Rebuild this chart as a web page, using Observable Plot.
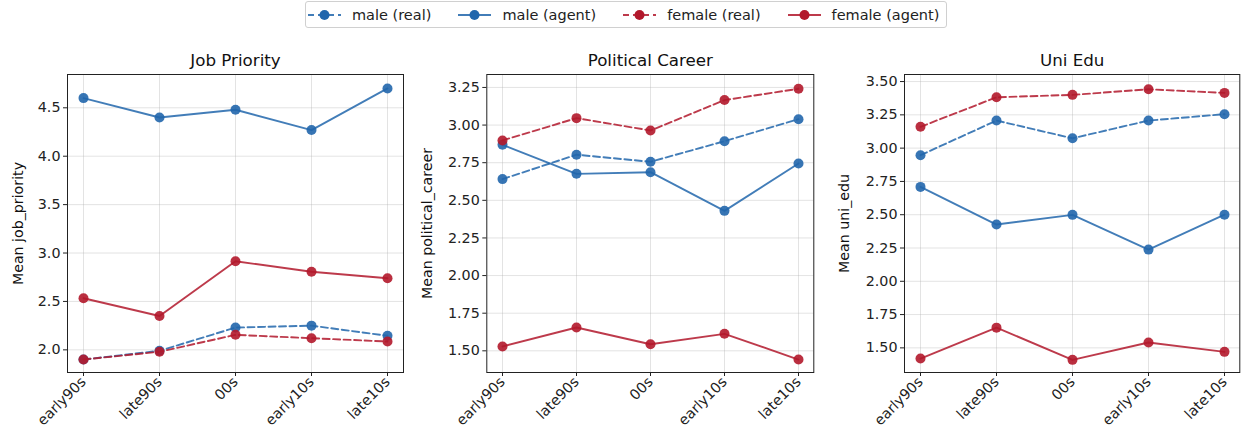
<!DOCTYPE html>
<html>
<head>
<meta charset="utf-8">
<script src="https://cdn.jsdelivr.net/npm/d3@7"></script>
<script src="https://cdn.jsdelivr.net/npm/@observablehq/plot@0.6"></script>
<style>
  html, body { margin: 0; padding: 0; background: #fff; }
  #wrap { position: relative; width: 1247px; height: 440px; font-family: "DejaVu Sans", sans-serif; }
  .panel { position: absolute; top: 40px; }
  #legend { position: absolute; top: 1px; left: 305px; width: 642px; height: 27px; box-sizing: border-box;
    border: 1px solid #d0d0d0; border-radius: 3px; display: flex; align-items: center; gap: 27px;
    font-size: 14.5px; color: #222; padding: 0 0 0 2px; }
  .item { display: flex; align-items: center; gap: 11px; }
</style>
</head>
<body>
<div id="wrap">
  <div id="legend"></div>
</div>
<script>
const categories = ["early90s", "late90s", "00s", "early10s", "late10s"];
const seriesNames = ["male (real)", "male (agent)", "female (real)", "female (agent)"];

// Job Priority
const jobMaleReal    = [1.90, 1.99, 2.23, 2.25, 2.145];
const jobMaleAgent   = [4.60, 4.40, 4.48, 4.27, 4.70];
const jobFemaleReal  = [1.90, 1.98, 2.155, 2.12, 2.086];
const jobFemaleAgent = [2.533, 2.35, 2.915, 2.806, 2.74];

// Political Career
const polMaleReal    = [2.641, 2.803, 2.756, 2.893, 3.039];
const polMaleAgent   = [2.869, 2.676, 2.687, 2.43, 2.745];
const polFemaleReal  = [2.898, 3.046, 2.964, 3.166, 3.241];
const polFemaleAgent = [1.529, 1.655, 1.544, 1.613, 1.442];

// Uni Edu
const eduMaleReal    = [2.947, 3.207, 3.074, 3.207, 3.255];
const eduMaleAgent   = [2.709, 2.426, 2.499, 2.238, 2.50];
const eduFemaleReal  = [3.16, 3.382, 3.40, 3.442, 3.415];
const eduFemaleAgent = [1.42, 1.652, 1.41, 1.54, 1.47];

const yTicks1 = [2.0, 2.5, 3.0, 3.5, 4.0, 4.5];
const yTicks2 = [1.50, 1.75, 2.00, 2.25, 2.50, 2.75, 3.00, 3.25];
const yTicks3 = [1.50, 1.75, 2.00, 2.25, 2.50, 2.75, 3.00, 3.25, 3.50];

const BLUE = "#2166ac", RED = "#b2182b";
const DASH = "7,3.5";
const styles = {
  "male (real)":    {color: BLUE, dash: DASH},
  "male (agent)":   {color: BLUE, dash: null},
  "female (real)":  {color: RED,  dash: DASH},
  "female (agent)": {color: RED,  dash: null}
};

const panels = [
  {title: "Job Priority", ylabel: "Mean job_priority", series: [jobMaleReal, jobMaleAgent, jobFemaleReal, jobFemaleAgent],
   domain: [1.766, 4.844], ticks: yTicks1, fmt: ".1f", left: 0, width: 410, ml: 67, mr: 7, lx: -49},
  {title: "Political Career", ylabel: "Mean political_career", series: [polMaleReal, polMaleAgent, polFemaleReal, polFemaleAgent],
   domain: [1.356, 3.336], ticks: yTicks2, fmt: ".2f", left: 415, width: 410, ml: 71.3, mr: 11.7, lx: -59},
  {title: "Uni Edu", ylabel: "Mean uni_edu", series: [eduMaleReal, eduMaleAgent, eduFemaleReal, eduFemaleAgent],
   domain: [1.315, 3.553], ticks: yTicks3, fmt: ".2f", left: 830, width: 417, ml: 74, mr: 7.7, lx: -60}
];

const wrap = document.getElementById("wrap");
for (const p of panels) {
  const marks = [
    Plot.gridX(categories, {stroke: "#b0b0b0", strokeOpacity: 0.35}),
    Plot.gridY(p.ticks, {stroke: "#b0b0b0", strokeOpacity: 0.35}),
    Plot.axisX({tickRotate: -45, tickSize: 4, tickPadding: 3, fontSize: 14.3, label: null}),
    Plot.axisY(p.ticks, {tickSize: 4, tickPadding: 3, fontSize: 14.3, tickFormat: d3.format(p.fmt), label: null}),
    Plot.text([p.title], {frameAnchor: "top", lineAnchor: "middle", dy: -14, fontSize: 16.7, fill: "#111"}),
    Plot.text([p.ylabel], {frameAnchor: "left", textAnchor: "middle", lineAnchor: "middle", dx: p.lx, rotate: -90, fontSize: 14.2, fill: "#111"})
  ];
  seriesNames.forEach((name, i) => {
    const data = categories.map((c, j) => ({cat: c, value: p.series[i][j]}));
    const st = styles[name];
    marks.push(Plot.line(data, {x: "cat", y: "value", stroke: st.color, strokeWidth: 1.9, strokeOpacity: 0.85,
      strokeDasharray: st.dash || undefined}));
    marks.push(Plot.dot(data, {x: "cat", y: "value", fill: st.color, r: 5, fillOpacity: 0.9}));
  });
  marks.push(Plot.frame({stroke: "#222", strokeWidth: 1}));
  const chart = Plot.plot({
    width: p.width, height: 400,
    marginLeft: p.ml, marginRight: p.mr, marginTop: 34, marginBottom: 68,
    style: {fontFamily: "DejaVu Sans, sans-serif", fontSize: "14px", color: "#222", background: "#fff"},
    x: {type: "point", domain: categories, padding: 0.2},
    y: {domain: p.domain},
    marks
  });
  chart.classList.add("panel");
  chart.style.left = p.left + "px";
  wrap.appendChild(chart);
}

// legend
const legend = document.getElementById("legend");
for (const name of seriesNames) {
  const st = styles[name];
  const item = document.createElement("div");
  item.className = "item";
  const svg = d3.create("svg").attr("width", 33).attr("height", 12);
  svg.append("line").attr("x1", 0).attr("x2", 33).attr("y1", 6).attr("y2", 6)
    .attr("stroke", st.color).attr("stroke-width", 1.9).attr("stroke-opacity", 0.85)
    .attr("stroke-dasharray", st.dash ? "6,4" : null);
  svg.append("circle").attr("cx", 16.5).attr("cy", 6).attr("r", 5).attr("fill", st.color);
  item.appendChild(svg.node());
  const span = document.createElement("span");
  span.textContent = name;
  item.appendChild(span);
  legend.appendChild(item);
}
</script>
</body>
</html>
